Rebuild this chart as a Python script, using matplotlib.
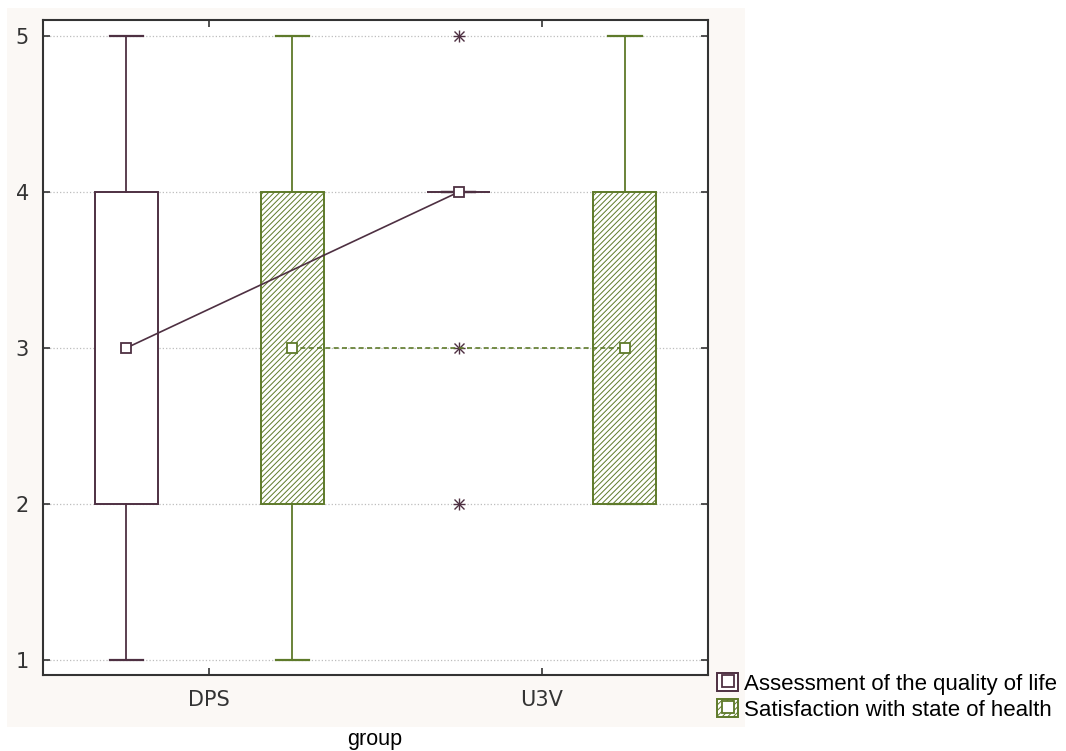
import matplotlib
matplotlib.use("Agg")
import matplotlib.pyplot as plt
from matplotlib.patches import Rectangle, Patch
from matplotlib.lines import Line2D
from matplotlib.legend_handler import HandlerTuple

# Categories and series
groups = ["DPS", "U3V"]
series = ["Assessment of the quality of life", "Satisfaction with state of health"]

# Box statistics per series, ordered as in `groups`
quality_med = [3, 4]
quality_q1 = [2, 4]
quality_q3 = [4, 4]
quality_lo = [1, 4]
quality_hi = [5, 4]
quality_fliers = [[], [5, 3, 2]]

health_med = [3, 3]
health_q1 = [2, 2]
health_q3 = [4, 4]
health_lo = [1, 2]
health_hi = [5, 5]
health_fliers = [[], []]

y_ticks = [1, 2, 3, 4, 5]

C_Q = "#4e3042"
C_H = "#5e7a2a"
plt.rcParams["hatch.linewidth"] = 0.7

W, H = 1066, 751
fig = plt.figure(figsize=(W / 100, H / 100), dpi=100)
fig.patch.set_facecolor("white")

# light panel behind the plot area
fig.patches.append(Rectangle((7 / W, 24 / H), 738 / W, 719 / H,
                             transform=fig.transFigure, facecolor="#fbf8f5",
                             edgecolor="none", zorder=-5))

ax = fig.add_axes([43 / W, 76 / H, 665 / W, 655 / H])
ax.set_zorder(1)
ax.set_facecolor("white")


def stats(med, q1, q3, lo, hi, fl):
    return [dict(med=m, q1=a, q3=b, whislo=l, whishi=h, fliers=f)
            for m, a, b, l, h, f in zip(med, q1, q3, lo, hi, fl)]


x = list(range(len(groups)))
off = 0.25
bw = 0.19

for st, col, sign, hatch in [
    (stats(quality_med, quality_q1, quality_q3, quality_lo, quality_hi, quality_fliers), C_Q, -1, None),
    (stats(health_med, health_q1, health_q3, health_lo, health_hi, health_fliers), C_H, 1, "//////"),
]:
    pos = [xi + sign * off for xi in x]
    ax.bxp(st, positions=pos, widths=bw, patch_artist=True, manage_ticks=False,
           boxprops=dict(facecolor="white", edgecolor=col, linewidth=1.4, hatch=hatch),
           whiskerprops=dict(color=col, linewidth=1.3),
           capprops=dict(color=col, linewidth=1.6),
           medianprops=dict(linewidth=0),
           flierprops=dict(marker="none"),
           capwidths=0.1, zorder=3)
    # outliers drawn as eight-armed stars
    for p, s in zip(pos, st):
        if s["fliers"]:
            ax.plot([p] * len(s["fliers"]), s["fliers"], linestyle="none",
                    marker="+", ms=9, mew=1.0, color=C_Q, zorder=4)
            ax.plot([p] * len(s["fliers"]), s["fliers"], linestyle="none",
                    marker="x", ms=6.5, mew=1.0, color=C_Q, zorder=4)

# median lines and markers
ax.plot([xi - off for xi in x], quality_med, color=C_Q, lw=1.2, ls="-",
        marker="s", ms=7.5, mfc="white", mec=C_Q, mew=1.3, zorder=5)
ax.plot([xi + off for xi in x], health_med, color=C_H, lw=1.2, ls=(0, (3, 2)),
        marker="s", ms=7.5, mfc="white", mec=C_H, mew=1.3, zorder=5)

ax.set_xlim(-0.5, 1.5)
ax.set_ylim(0.904, 5.103)
ax.set_xticks(x)
ax.set_xticklabels(groups)
ax.set_yticks(y_ticks)
ax.set_yticklabels([str(v) for v in y_ticks])
ax.yaxis.grid(True, linestyle=":", color="#bdbdbd", linewidth=0.9)
ax.set_axisbelow(True)
ax.tick_params(direction="in", length=5, width=1.2, color="#333333",
               top=True, right=True, labelsize=15, labelcolor="#333333")
ax.tick_params(axis="y", pad=10)
ax.tick_params(axis="x", pad=11)
for sp in ax.spines.values():
    sp.set_color("#333333")
    sp.set_linewidth(1.5)

fig.text(375 / W, 1 - 740 / H, "group", ha="center", va="center",
         fontsize=15.5, family="Liberation Sans")

handles = [
    (Patch(facecolor="white", edgecolor=C_Q, linewidth=1.4),
     Line2D([], [], ls="none", marker="s", ms=9, mfc="white", mec=C_Q, mew=1.3)),
    (Patch(facecolor="white", edgecolor=C_H, linewidth=1.4, hatch="//////"),
     Line2D([], [], ls="none", marker="s", ms=9, mfc="white", mec=C_H, mew=1.3)),
]
fig.legend(handles, series, handler_map={tuple: HandlerTuple(ndivide=1)},
           loc="upper left", bbox_to_anchor=(717 / W, 1 - 673 / H),
           frameon=False, handlelength=0.95, handleheight=0.9,
           handletextpad=0.27, borderpad=0, borderaxespad=0, labelspacing=0.18,
           prop={"family": "Liberation Sans", "size": 16})

fig.savefig("out.png", dpi=100)
